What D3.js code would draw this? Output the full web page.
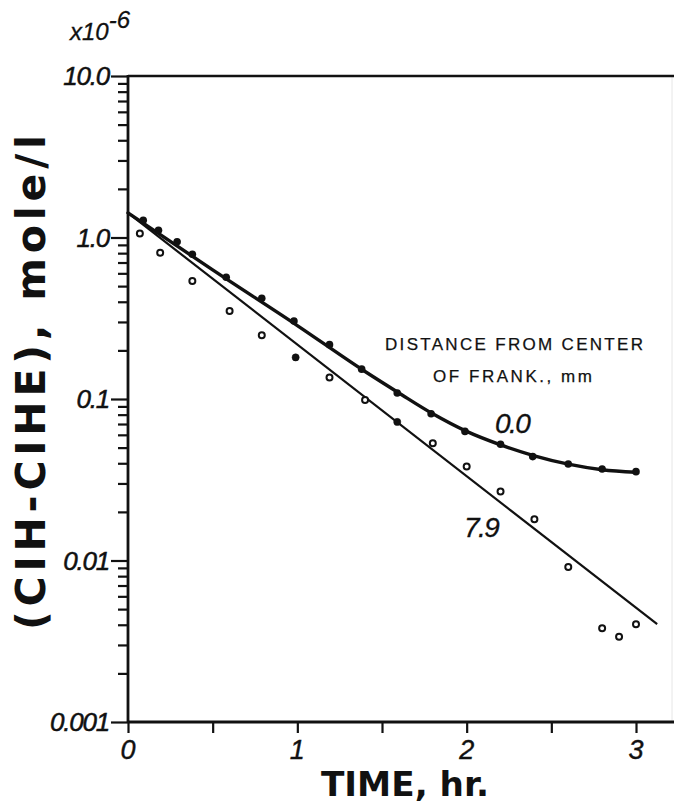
<!DOCTYPE html>
<html>
<head>
<meta charset="utf-8">
<script src="https://cdn.jsdelivr.net/npm/d3@7"></script>
<style>
  html, body { margin: 0; padding: 0; background: #fff; }
  svg { display: block; }
</style>
</head>
<body>
<svg id="chart" width="674" height="803"></svg>
<script>
// ---- data ----
const yMajorValues = [10, 1, 0.1, 0.01, 0.001];
const yMajorLabels = ["10.0", "1.0", "0.1", "0.01", "0.001"];
const xMajorValues = [0, 1, 2, 3];
const xMajorLabels = ["0", "1", "2", "3"];
const xMinorValues = [0.5, 1.5, 2.5];

// distance 0.0 mm (filled dots)
const time00 = [0.09, 0.18, 0.29, 0.38, 0.58, 0.79, 0.98, 1.19, 1.38, 1.59, 1.79, 1.99, 2.2, 2.39, 2.6, 2.8, 3.0];
const conc00 = [1.28, 1.11, 0.942, 0.787, 0.567, 0.420, 0.304, 0.217, 0.153, 0.109, 0.081, 0.063, 0.0525, 0.044, 0.0396, 0.0369, 0.0355];
// distance 7.9 mm (open circles, a couple appear solid)
const time79 = [0.07, 0.19, 0.38, 0.6, 0.79, 0.99, 1.19, 1.4, 1.59, 1.8, 2.0, 2.2, 2.4, 2.6, 2.8, 2.9, 3.0];
const conc79 = [1.06, 0.805, 0.538, 0.351, 0.248, 0.181, 0.136, 0.0986, 0.0721, 0.0532, 0.0382, 0.0267, 0.018, 0.0091, 0.0038, 0.00337, 0.00403];
const solid79 = [0, 0, 0, 0, 0, 1, 0, 0, 1, 0, 0, 0, 0, 0, 0, 0, 0];

// hand-drawn fitted curves
const fit00Time = [0, 0.5, 1.0, 1.4, 1.6, 1.8, 2.0, 2.2, 2.4, 2.6, 2.8, 3.0];
const fit00Conc = [1.42, 0.63, 0.285, 0.148, 0.109, 0.081, 0.063, 0.052, 0.0445, 0.0395, 0.0365, 0.0352];
const fit79Time = [0, 3.125];
const fit79Conc = [1.42, 0.00403];

// ---- layout ----
const svg = d3.select("#chart");
const W = 674, H = 803;
const mLeft = 128, mTop = 76, mBottom = 722;
const x = d3.scaleLinear().domain([0, 3]).range([mLeft, 636]);
const xMax = x.invert(W);
const y = d3.scaleLog().domain([0.001, 10]).range([mBottom, mTop]);

svg.append("rect").attr("width", W).attr("height", H).attr("fill", "#fff");

const ink = "#111";
const italicFont = "'Liberation Sans', Arial, sans-serif";
const boldFont = "'DejaVu Sans', sans-serif";

// faint scan edge at right
svg.append("line").attr("x1", 672).attr("x2", 672).attr("y1", y(10)).attr("y2", y(0.001))
  .attr("stroke", "#e6e6e6").attr("stroke-width", 1);

// minor y ticks
const minorY = [];
[0.001, 0.01, 0.1, 1].forEach(d => { for (let k = 2; k <= 9; k++) minorY.push(d * k); });

const gy = svg.append("g").attr("transform", `translate(${mLeft},0)`);
gy.call(d3.axisLeft(y).tickValues(minorY).tickSize(10).tickSizeOuter(0).tickFormat(""));
gy.call(g => g.select(".domain").remove());
const gy2 = svg.append("g").attr("transform", `translate(${mLeft},0)`);
gy2.call(d3.axisLeft(y).tickValues(yMajorValues).tickSize(17).tickSizeOuter(0).tickFormat(""));
gy2.call(g => g.select(".domain").remove());
svg.selectAll(".tick line").attr("stroke", ink).attr("stroke-width", 2.2);

const gx = svg.append("g").attr("transform", `translate(0,${mBottom})`);
gx.call(d3.axisBottom(x).tickValues(xMinorValues.concat(xMajorValues)).tickSize(11).tickSizeOuter(0).tickFormat(""));
gx.call(g => g.select(".domain").remove());
gx.selectAll(".tick line").attr("stroke", ink).attr("stroke-width", 2.2);

// axis lines / frame
svg.append("line").attr("x1", mLeft).attr("x2", mLeft).attr("y1", y(10) - 1).attr("y2", y(0.001) + 1)
  .attr("stroke", ink).attr("stroke-width", 2.8);
svg.append("line").attr("x1", mLeft).attr("x2", x(xMax)).attr("y1", y(0.001)).attr("y2", y(0.001))
  .attr("stroke", ink).attr("stroke-width", 2.8);
svg.append("line").attr("x1", mLeft).attr("x2", x(xMax)).attr("y1", y(10)).attr("y2", y(10))
  .attr("stroke", ink).attr("stroke-width", 2.6);

// y tick labels
svg.selectAll(".ylab").data(yMajorValues).enter().append("text")
  .attr("x", mLeft - 19).attr("y", d => y(d) + 9)
  .attr("text-anchor", "end")
  .attr("font-family", italicFont).attr("font-style", "italic")
  .attr("font-size", 26).attr("letter-spacing", -1.2).attr("fill", ink)
  .attr("stroke", ink).attr("stroke-width", 0.5)
  .text((d, i) => yMajorLabels[i]);

// x tick labels
svg.selectAll(".xlab").data(xMajorValues).enter().append("text")
  .attr("x", d => x(d)).attr("y", mBottom + 37)
  .attr("text-anchor", "middle")
  .attr("font-family", italicFont).attr("font-style", "italic")
  .attr("font-size", 27).attr("fill", ink)
  .attr("stroke", ink).attr("stroke-width", 0.4)
  .text((d, i) => xMajorLabels[i]);

// multiplier x10^-6 (single text element)
const mult = svg.append("text").attr("x", 70).attr("y", 40)
  .attr("font-family", italicFont).attr("font-style", "italic").attr("font-size", 24).attr("fill", ink)
  .attr("stroke", ink).attr("stroke-width", 0.3);
mult.append("tspan").text("x10");
mult.append("tspan").attr("dy", -12).attr("font-size", 24).text("-6");

// axis titles
svg.append("text").attr("x", 321).attr("y", 796)
  .attr("font-family", boldFont).attr("font-weight", "bold").attr("font-size", 34).attr("fill", ink)
  .attr("textLength", 168).attr("lengthAdjust", "spacingAndGlyphs")
  .text("TIME, hr.");
svg.append("text").attr("transform", "translate(45,630) rotate(-90)")
  .attr("x", 0).attr("y", 0)
  .attr("font-family", boldFont).attr("font-weight", "bold").attr("font-size", 41).attr("fill", ink)
  .attr("textLength", 495).attr("lengthAdjust", "spacing")
  .text("(CIH-CIHE), mole/l");

// fitted lines
svg.append("path")
  .attr("d", d3.line().x(d => x(d[0])).y(d => y(d[1]))(fit79Time.map((t, i) => [t, fit79Conc[i]])))
  .attr("fill", "none").attr("stroke", ink).attr("stroke-width", 2.2);
svg.append("path")
  .attr("d", d3.line().x(d => x(d[0])).y(d => y(d[1])).curve(d3.curveMonotoneX)(fit00Time.map((t, i) => [t, fit00Conc[i]])))
  .attr("fill", "none").attr("stroke", ink).attr("stroke-width", 3.4).attr("stroke-linecap", "round");

// points
svg.selectAll(".p00").data(time00.map((t, i) => [t, conc00[i]])).enter().append("circle")
  .attr("cx", d => x(d[0])).attr("cy", d => y(d[1])).attr("r", 3.8).attr("fill", ink);
svg.selectAll(".p79").data(time79.map((t, i) => [t, conc79[i], solid79[i]])).enter().append("circle")
  .attr("cx", d => x(d[0])).attr("cy", d => y(d[1]))
  .attr("r", d => d[2] ? 3.6 : 3.0)
  .attr("fill", d => d[2] ? ink : "#fff")
  .attr("stroke", ink).attr("stroke-width", d => d[2] ? 0.5 : 2.0);

// legend text
svg.append("text").attr("x", 385).attr("y", 350)
  .attr("font-family", italicFont).attr("font-size", 17).attr("fill", ink)
  .attr("stroke", ink).attr("stroke-width", 0.25)
  .attr("textLength", 258).attr("lengthAdjust", "spacing")
  .text("DISTANCE FROM CENTER");
svg.append("text").attr("x", 433).attr("y", 382)
  .attr("font-family", italicFont).attr("font-size", 17).attr("fill", ink)
  .attr("stroke", ink).attr("stroke-width", 0.25)
  .attr("textLength", 159).attr("lengthAdjust", "spacing")
  .text("OF FRANK., mm");

// curve labels
svg.append("text").attr("x", 495).attr("y", 433)
  .attr("font-family", italicFont).attr("font-style", "italic").attr("font-size", 28).attr("fill", ink)
  .attr("stroke", ink).attr("stroke-width", 0.3)
  .attr("letter-spacing", -1.5)
  .text("0.0");
svg.append("text").attr("x", 464).attr("y", 537)
  .attr("font-family", italicFont).attr("font-style", "italic").attr("font-size", 28).attr("fill", ink)
  .attr("stroke", ink).attr("stroke-width", 0.3)
  .attr("letter-spacing", -1.5)
  .text("7.9");
</script>
</body>
</html>
